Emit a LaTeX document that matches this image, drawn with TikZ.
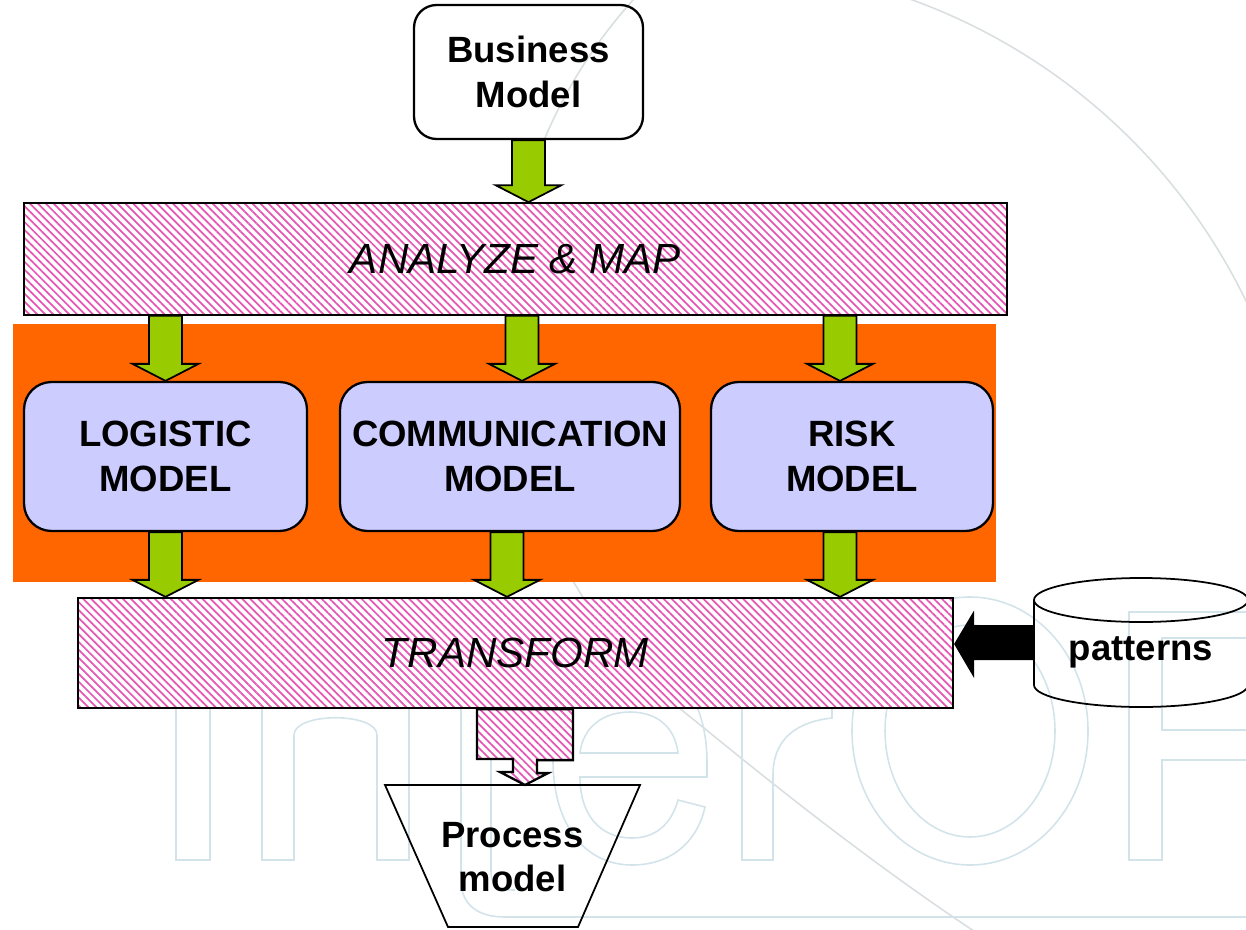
\documentclass[tikz,border=0pt]{standalone}
\usepackage{fontspec}
\setmainfont{Liberation Sans}
\usetikzlibrary{positioning,calc,patterns.meta}

\definecolor{hatchpink}{HTML}{E458B4}
\definecolor{zoneorange}{HTML}{FF6600}
\definecolor{modelblue}{HTML}{CCCCFF}
\definecolor{arrowgreen}{HTML}{99CC00}
\definecolor{logoblue}{HTML}{D3E3EA}
\definecolor{logogray}{HTML}{D9DEE0}

\newcommand{\blockdown}[2]{%
  \draw[greenblock] ($(#1)+(-16.5,0)$) -- ($(#1)+(16.5,0)$) -- ($(#2)+(16.5,17)$)
    -- ($(#2)+(33,17)$) -- (#2) -- ($(#2)+(-33,17)$) -- ($(#2)+(-16.5,17)$) -- cycle;}

\tikzset{
  labelfont/.style={font=\fontsize{20.8}{25.5}\selectfont\bfseries},
  bizbox/.style={labelfont,draw,line width=1.3pt,rounded corners=0.45cm,align=center},
  stage/.style={draw,line width=1.3pt,preaction={fill=white},
    pattern={Lines[angle=-45,distance=3.2pt,line width=1pt]},pattern color=hatchpink,
    font=\fontsize{24}{29}\selectfont\itshape},
  model/.style={labelfont,draw,line width=1.3pt,fill=modelblue,rounded corners=0.55cm,
    minimum height=2.98cm,inner sep=2pt,align=center},
  greenblock/.style={draw,line width=1pt,fill=arrowgreen},
  logo/.style={draw=logoblue,line width=0.9pt},
  swoosh/.style={draw=logogray,line width=0.9pt}
}

\begin{document}
\begin{tikzpicture}[x=0.02cm,y=0.02cm]
  \useasboundingbox (0,0) rectangle (1246,-929);

  % watermark
  \coordinate (ringa) at (708,-562);
  \coordinate (ringb) at (1000,-331.5);
  \draw[swoosh] ($(ringa)+(72:598)$) arc[start angle=72,end angle=22,radius=598];
  \draw[swoosh] ($(ringb)+(137:494.5)$) arc[start angle=137,end angle=232,radius=494.5]
    .. controls (780,-790) and (880,-870) .. (995,-945);
  \draw[logo] (176,-700) rectangle (210,-860);
  \draw[logo] (262,-700) -- (262,-860) -- (294,-860) -- (294,-735)
    .. controls (294,-712) and (377,-712) .. (377,-735) -- (377,-860) -- (409,-860) -- (409,-700);
  \draw[logo] (461,-700) -- (461,-880) .. controls (461,-905) and (478,-917) .. (505,-917) -- (1260,-917);
  \draw[logo] (491,-700) -- (491,-872) .. controls (491,-885) and (498,-890) .. (515,-890);
  \draw[logo] (707,-777) -- (707,-762) .. controls (707,-700) and (675,-655) .. (630,-655)
    .. controls (585,-655) and (553,-700) .. (553,-760) .. controls (553,-825) and (585,-865) .. (632,-865)
    .. controls (670,-865) and (697,-843) .. (705,-807) -- (678,-800)
    .. controls (671,-825) and (655,-838) .. (632,-838) .. controls (600,-838) and (580,-815) .. (580,-777) -- cycle;
  \draw[logo] (580,-753) .. controls (583,-727) and (603,-712) .. (630,-712)
    .. controls (657,-712) and (675,-727) .. (678,-753) -- cycle;
  \draw[logo] (742,-700) -- (742,-860) -- (773,-860) -- (773,-775)
    .. controls (773,-740) and (795,-722) .. (832,-718) -- (832,-700);
  \draw[logo] (970,-731) ellipse [x radius=118,y radius=134];
  \draw[logo] (970,-731) ellipse [x radius=85,y radius=106];
  \draw[logo] (1260,-612) -- (1129,-612) -- (1129,-860) -- (1162,-860) -- (1162,-760) -- (1260,-760);
  \draw[logo] (1260,-638) -- (1162,-638) -- (1162,-730) -- (1260,-730);

  \fill[zoneorange] (13,-324) rectangle (996,-582);

  \node[bizbox,minimum width=4.58cm,minimum height=2.68cm] (busmodel) at (528.5,-72) {Business\\Model};
  \node[stage,minimum width=19.66cm,minimum height=2.24cm] (analyze) at (515.5,-259) {ANALYZE \& MAP};
  \node[model,minimum width=5.66cm] (logistic) at (165.5,-456.5) {LOGISTIC\\MODEL};
  \node[model,minimum width=6.8cm] (communication) at (510,-456.5) {COMMUNICATION\\MODEL};
  \node[model,minimum width=5.64cm] (risk) at (852,-456.5) {RISK\\MODEL};
  \node[stage,minimum width=17.5cm,minimum height=2.2cm] (transform) at (515.5,-653) {TRANSFORM};
  \node[labelfont,align=center] (process) at (512.5,-857) {Process\\model};
  \node[labelfont] (patterns) at (1141,-652) {patterns};

  \blockdown{busmodel.south}{busmodel.south |- analyze.north}
  \coordinate (comm-in) at ($(communication.north)+(12,0)$);
  \coordinate (risk-in) at ($(risk.north)+(-12,0)$);
  \blockdown{analyze.south -| logistic.north}{logistic.north}
  \blockdown{analyze.south -| comm-in}{comm-in}
  \blockdown{analyze.south -| risk-in}{risk-in}
  \coordinate (comm-out) at ($(communication.south)+(-3,0)$);
  \coordinate (risk-out) at ($(risk.south)+(-12,0)$);
  \blockdown{logistic.south}{logistic.south |- transform.north}
  \blockdown{comm-out}{comm-out |- transform.north}
  \blockdown{risk-out}{risk-out |- transform.north}

  \coordinate (pm-in) at ($(process)+(12.5,72)$);
  \draw[stage] ($(pm-in |- transform.south)+(-48,0)$) -- ++(96,0) -- ++(0,-51) -- ++(-36,0)
    -- ++(0,-13) -- ++(11,0) -- (pm-in) -- ++(-25,13) -- ++(13,0) -- ++(0,13) -- ++(-36,0) -- cycle;
  \draw[line width=1pt] ($(process)+(-127.5,72)$) -- ($(process)+(127.5,72)$)
    -- ($(process)+(65.5,-70)$) -- ($(process)+(-64.5,-70)$) -- cycle;

  \coordinate (pat-w) at ($(patterns)+(-107,9.5)$);
  \fill ($(pat-w)+(0,17.5)$) -- ($(pat-w -| transform.east)+(20,17.5)$) -- ($(pat-w -| transform.east)+(20,32)$)
    -- ($(pat-w -| transform.east)+(0,-1.5)$) -- ($(pat-w -| transform.east)+(20,-35.5)$)
    -- ($(pat-w -| transform.east)+(20,-17.5)$) -- ($(pat-w)+(0,-17.5)$) -- cycle;
  \draw[line width=1pt] ($(patterns)+(0,52)$) ellipse [x radius=107,y radius=22];
  \draw[line width=1pt] ($(patterns)+(-107,52)$) -- ($(patterns)+(-107,-33)$)
    arc[start angle=180,end angle=360,x radius=107,y radius=22] -- ($(patterns)+(107,52)$);
\end{tikzpicture}
\end{document}
